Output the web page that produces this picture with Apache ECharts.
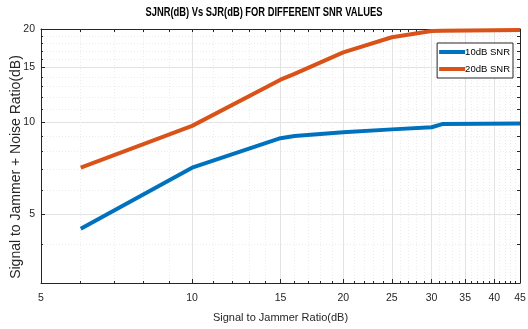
<!DOCTYPE html>
<html><head><meta charset="utf-8">
<script src="https://cdn.jsdelivr.net/npm/echarts@6/dist/echarts.min.js"></script>
<style>html,body{margin:0;padding:0;background:#fff}#c{width:528px;height:329px}</style>
</head><body><div id="c"></div>
<script>
const sjr = [6, 10, 15, 16, 20, 25, 30, 31.5, 45];
const snr10 = [4.5, 7.1, 8.85, 9.0, 9.25, 9.45, 9.6, 9.83, 9.88];
const snr20 = [7.1, 9.7, 13.7, 14.3, 16.8, 18.8, 19.7, 19.75, 19.85];
const xTicks = [5, 10, 15, 20, 25, 30, 35, 40, 45];
const xMinor = [6, 7, 8, 9, 11, 12, 13, 14, 16, 17, 18, 19, 21, 22, 23, 24, 26, 27, 28, 29, 31, 32, 33, 34, 36, 37, 38, 39, 41, 42, 43, 44];
const yTicks = [5, 10, 15, 20];
const yMinor = [3, 4, 6, 7, 8, 9, 11, 12, 13, 14, 16, 17, 18, 19];
const seriesNames = ['10dB SNR', '20dB SNR'];
const title = 'SJNR(dB) Vs SJR(dB) FOR DIFFERENT SNR VALUES';
const xName = 'Signal to Jammer Ratio(dB)';
const yName = 'Signal to Jammer + Noise Ratio(dB)';

const font = "'Liberation Sans Narrow', 'Arial Narrow', 'Liberation Sans', sans-serif";
const ink = '#262626';
const chart = echarts.init(document.getElementById('c'));
const pair = (xs, ys) => xs.map((x, i) => [x, ys[i]]);
const fmt = v => String(Math.round(v));
const xRange = {type: 'log', logBase: 10, min: 5, max: 45};
const yRange = {type: 'log', logBase: 10, min: 3, max: 20};
function helperAxis(range, position, ticks, len, split, showLine) {
  return Object.assign({}, range, {
    position: position,
    axisLine: {show: showLine, lineStyle: {color: ink, width: 1}},
    axisTick: {show: true, inside: true, length: len, customValues: ticks, lineStyle: {color: ink}},
    axisLabel: {show: false},
    splitLine: split ? {show: true, lineStyle: split} : {show: false},
    minorTick: {show: false}, minorSplitLine: {show: false}
  });
}
chart.setOption({
  animation: false,
  graphic: [{type: 'text', x: 264, y: 13, scaleX: 0.78, silent: true,
    style: {text: title, align: 'center', verticalAlign: 'middle',
      font: "bold 12px 'Liberation Sans', Arial, sans-serif", fill: '#000'}}],
  legend: {data: seriesNames, right: 15, top: 43, orient: 'vertical', itemWidth: 26, itemHeight: 4, itemGap: 7,
    backgroundColor: '#fff', borderColor: ink, borderWidth: 1, borderRadius: 0, padding: [4, 3, 4, 2],
    icon: 'rect', textStyle: {fontFamily: font, fontSize: 9.5, color: '#000', padding: [0, 0, 0, -5]}},
  grid: {left: 41, right: 8, top: 29, bottom: 46, outerBoundsMode: 'none', containLabel: false},
  xAxis: [
    Object.assign({}, xRange, {
      position: 'bottom',
      name: xName, nameLocation: 'middle', nameGap: 29, nameMoveOverlap: false,
      nameTextStyle: {fontFamily: font, fontSize: 11, color: ink},
      axisLine: {show: true, lineStyle: {color: ink, width: 1}},
      axisTick: {show: true, inside: true, length: 4, customValues: xTicks, lineStyle: {color: ink}},
      axisLabel: {customValues: xTicks, interval: 0, hideOverlap: false, margin: 10,
        formatter: fmt, fontFamily: font, fontSize: 10.5, color: ink},
      splitLine: {show: true, lineStyle: {color: '#e3e3e3', width: 1}},
      minorTick: {show: false}, minorSplitLine: {show: false}
    }),
    helperAxis(xRange, 'bottom', xMinor, 2, {color: '#ececec', width: 1, type: [1, 2]}, false),
    helperAxis(xRange, 'top', xTicks.concat(xMinor), 3, null, true)
  ],
  yAxis: [
    Object.assign({}, yRange, {
      position: 'left',
      name: yName, nameLocation: 'middle', nameGap: 18, nameMoveOverlap: false,
      nameTextStyle: {fontFamily: font, fontSize: 14, color: ink, padding: [0, 22, 0, 0]},
      axisLine: {show: true, lineStyle: {color: ink, width: 1}},
      axisTick: {show: true, inside: true, length: 4, customValues: yTicks, lineStyle: {color: ink}},
      axisLabel: {customValues: yTicks, interval: 0, hideOverlap: false, margin: 6,
        formatter: fmt, fontFamily: font, fontSize: 10.5, color: ink},
      splitLine: {show: true, lineStyle: {color: '#e3e3e3', width: 1}},
      minorTick: {show: false}, minorSplitLine: {show: false}
    }),
    helperAxis(yRange, 'left', yMinor, 2, {color: '#ececec', width: 1, type: [1, 2]}, false),
    helperAxis(yRange, 'right', yTicks.concat(yMinor), 3, null, true)
  ],
  series: [
    {name: seriesNames[0], type: 'line', data: pair(sjr, snr10), xAxisIndex: 0, yAxisIndex: 0,
      showSymbol: false, symbol: 'none', lineStyle: {color: '#0072BD', width: 4}, itemStyle: {color: '#0072BD'}},
    {name: seriesNames[1], type: 'line', data: pair(sjr, snr20), xAxisIndex: 0, yAxisIndex: 0,
      showSymbol: false, symbol: 'none', lineStyle: {color: '#D95319', width: 4}, itemStyle: {color: '#D95319'}}
  ]
});
</script></body></html>
